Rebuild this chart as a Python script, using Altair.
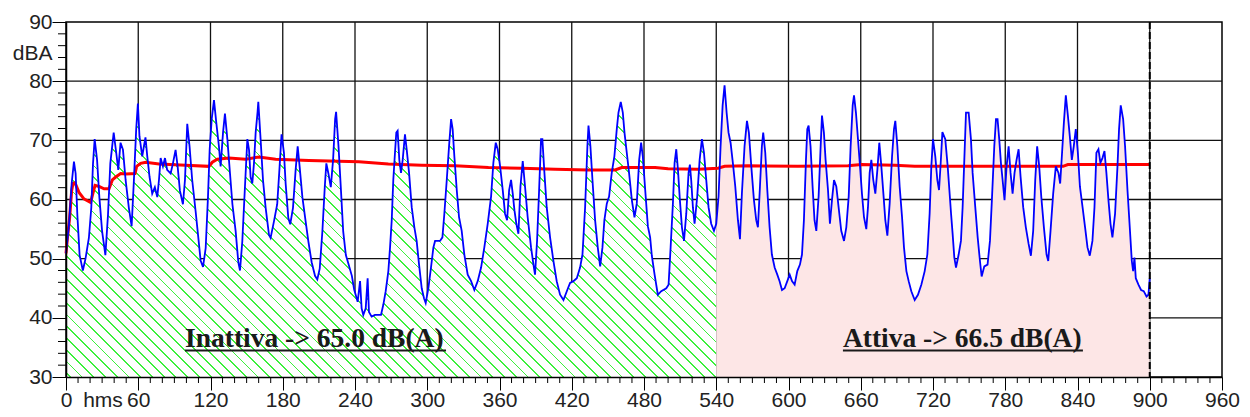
import math
import altair as alt
import pandas as pd

# ---------------- data ----------------
t_blue = [0, 2.5, 4.7, 6.6, 8, 9.4, 11.3, 14, 16.2, 19, 21, 22.4, 23.8, 25.8, 27.7, 30, 32.7, 34.9, 36.8, 39.6,
          41.7, 43.4, 45.3, 47.3, 49.5, 52.2, 54.5, 56.4, 58.3, 59.7, 61, 63.3, 64.7, 66, 67.5, 69.4, 71.6, 73.8,
          75.8, 77.2, 78.6, 80.5, 82.2, 84, 86.9, 88.8, 91, 92.7, 94.6, 97.1, 98.8, 100.7, 102.6, 104.8, 107.6,
          109.9, 111.8, 113.8, 116, 117.9, 119.3, 121, 122.9, 124.8, 127, 128.4, 130.4, 132, 134, 136.2, 138.2,
          140.9, 143.1, 144.5, 146.4, 148.6, 150.6, 152, 153.3, 154.7, 156.1, 157.5, 159.1, 159.7, 161.6, 163.6,
          165.8, 168.6, 169.9, 172.7, 175.4, 177.4, 179, 181, 182.4, 184.6, 186.2, 188.5, 190.7, 192.4, 194,
          196.3, 199, 201.3, 204, 206.8, 208.7, 210.7, 212.9, 214.9, 216.2, 217.9, 219.9, 221.8, 223.5, 224.3,
          226.3, 228.2, 230.2, 232.4, 234.6, 237.4, 239.3, 242.2, 244.2, 245.5, 246.9, 248.9, 250.5, 251.6,
          253.8, 256.6, 259.4, 261.6, 263.5, 265.5, 267.7, 269.1, 270.5, 271.8, 273.2, 274.3, 275.4, 276.8,
          278.2, 279.6, 281.5, 282.9, 284.9, 287.1, 289.3, 291.2, 293.2, 295.4, 297.3, 298.7, 300.9, 303.1,
          305.1, 306.5, 310.6, 312.6, 314.2, 316.2, 318.1, 319.8, 321.1, 322.5, 324.5, 326.4, 328.6, 330.8,
          333.6, 336.4, 339.1, 341.9, 344.7, 347.4, 350.2, 353, 354.9, 356.9, 358.5, 360.5, 362.7, 364.6, 366.3,
          368, 369.6, 371, 372.4, 374, 375.7, 377.4, 379.3, 381.2, 383.4, 386.2, 388.2, 389.5, 391.2, 392.9,
          394.5, 395.6, 397.3, 399.2, 402, 404.8, 407.5, 410.3, 413.1, 415.9, 418.6, 421.4, 424.2, 426.9, 428.9,
          431.1, 433, 433.9, 435.5, 437.2, 439.4, 441.6, 443.6, 445.5, 447.1, 449.1, 451, 453.2, 455.4, 457.4,
          458.8, 460.7, 462.4, 463.8, 465.7, 467.6, 469.9, 472.1, 474, 476, 477.6, 479, 481, 483.2, 485.1,
          486.5, 488.8, 491.5, 494.3, 498.5, 500.4, 502.1, 504, 505.4, 506.8, 508.2, 509.8, 511.5, 513.2, 515.1,
          517, 518.1, 519.2, 520.6, 522, 524.2, 526.2, 528.1, 529.8, 531.7, 533.6, 535.8, 538.1, 540, 541.9,
          543.6, 545.3, 546.9, 548.6, 550.2, 551.9, 553.8, 555.8, 558, 559.7, 561.3, 563.5, 565.5, 567.1, 569.1,
          571.3, 573.2, 574.6, 576.3, 577.9, 579, 580.7, 582.4, 584.3, 586.2, 588.5, 590.7, 592.6, 594.6, 596.8,
          599, 601, 602.9, 605.1, 607.3, 609.5, 611.2, 612.8, 614.5, 615.6, 616.7, 618.3, 620, 621.6, 623.1, 625,
          626.7, 627.8, 629.4, 630.8, 632.8, 634.4, 636.1, 637.8, 639.7, 641.6, 643.8, 646.1, 648, 650, 651.6,
          653.3, 654.4, 656, 657.7, 659.4, 661, 662.7, 664.6, 666, 667.4, 668.8, 670.4, 672.1, 673.8, 675.4,
          677.1, 678.8, 680.4, 682.1, 684, 686, 687.6, 688.7, 690.4, 692.3, 694.3, 695.9, 697.9, 699.8, 702,
          704.8, 707.5, 710.3, 713.1, 715.3, 717.2, 718.6, 720, 721.9, 723.6, 725, 726.4, 727.8, 730.2, 732.2,
          733.6, 735, 736.3, 737.7, 739.1, 741.3, 743.2, 744.6, 746, 747.4, 749.6, 751.5, 752.9, 755.1, 757.1,
          759, 760.4, 762.6, 765.3, 767.3, 768.9, 770.9, 772.3, 773.6, 775, 776.4, 777.8, 779.4, 781.1, 782.8,
          784.4, 786.1, 787.7, 789.4, 791.1, 792.7, 794.9, 797.1, 799.4, 801.3, 803.2, 804.9, 806.5, 808.2,
          809.9, 812.1, 814.3, 815.7, 817.6, 819.8, 822, 824.2, 825.6, 827, 828.7, 830.3, 832, 833.6, 835.3,
          836.9, 838.6, 840.3, 842, 844.2, 846.3, 848.3, 850.2, 852.4, 854.1, 855.7, 857.4, 859, 860.7, 862.4,
          864, 865.7, 867.4, 869, 871.2, 873.2, 874.5, 875.9, 877.9, 879.5, 881.5, 883.4, 885.1, 886.2, 887.3,
          888.4, 890.6, 892.8, 895, 897.3, 898.9, 900]
db_blue = [50.9, 55.8, 62.7, 66.4, 64.4, 57.5, 50.6, 48, 50, 53.5, 58.6, 66, 70.2, 66.7, 60.4, 54.6, 50.6, 57.5,
           66.1, 71.3, 67.9, 65, 69.6, 68.4, 63.3, 58.6, 55.5, 63.3, 71.9, 76.2, 70.7, 67.3, 69, 70.5, 67.3, 63.8,
           61, 62.1, 60.4, 63.3, 67, 65.6, 67, 65, 64.4, 66.1, 68.4, 65.6, 61.5, 59.2, 63.3, 72.8, 69, 63.3, 58.1,
           53.5, 49.7, 48.6, 51.8, 60.4, 68.4, 73.6, 76.8, 73, 69, 65.6, 71.3, 74.5, 70.2, 64.4, 59.2, 54.6, 49.4,
           48, 52.9, 62.1, 70.2, 68.4, 63.8, 62.7, 66.1, 71.3, 74.8, 76.5, 70.2, 63.3, 58.6, 54, 53.5, 56.3, 59.2,
           65.6, 71, 67.9, 62.7, 56.9, 55.8, 58.6, 65, 69, 65.6, 60.4, 56.3, 52.9, 49.4, 47.1, 46.5, 48.3, 54.6,
           62.1, 66.1, 64.4, 62.1, 66.7, 73.6, 74.8, 69, 62.1, 54.6, 50.6, 49.1, 47.1, 44.8, 42.7, 46.2, 41.6,
           40.5, 41.6, 46.7, 41, 40.2, 40.5, 40.5, 40.5, 42.2, 44.5, 47.9, 51.9, 56.5, 63.3, 67.9, 71.3, 71.6,
           66.7, 64.5, 66.7, 71, 68.5, 64.5, 58.7, 55.3, 53, 49, 45, 43.3, 42.5, 45, 48.5, 51.9, 53, 53, 53.6,
           57.6, 63.3, 69, 73.6, 71.9, 67.3, 61.6, 57, 54.7, 50.7, 47.3, 46.2, 44.7, 46.2, 48.5, 51.9, 55.9, 60.5,
           66.2, 69.6, 68.5, 65.6, 61.6, 57.6, 56.5, 61.6, 63.3, 61, 58.2, 55.9, 54.2, 62.2, 66.5, 62.2, 57, 51.9,
           49, 47.3, 53, 61.6, 70.2, 70.2, 64.5, 58.7, 53.6, 49.6, 46.2, 43.9, 43, 44.5, 45.9, 46.2, 46.7, 48.5,
           50.7, 58.7, 69, 72.5, 69, 63.3, 56.5, 51.9, 48.7, 51.9, 56.5, 59.3, 60.5, 64.5, 67.3, 71.9, 74.7, 76.5,
           74.7, 71.3, 67.9, 64.5, 59.9, 57, 59.3, 66.7, 69.6, 67.3, 61.6, 55.5, 53.6, 50.5, 47.3, 43.9, 44.5, 45,
           45.6, 51.9, 59.3, 66.2, 68.5, 65, 59.9, 55.3, 53, 57.6, 64.5, 65.9, 63.3, 58.7, 55.9, 60.5, 66.7, 70.2,
           67.9, 63.3, 58.7, 55.9, 54.7, 55.9, 60.5, 69, 75.9, 79.3, 74.7, 71.3, 69.6, 66.2, 62.2, 56.5, 53.3, 61,
           69, 73.3, 71.3, 65.6, 59.9, 56.5, 55.3, 62.2, 69, 71.3, 67.9, 61.6, 55.3, 50.7, 48.5, 47.3, 46.2, 44.7,
           45, 46.2, 47.3, 46.2, 45.6, 47.9, 49, 50.7, 56.5, 66.7, 71.9, 72.5, 69, 62.2, 56.5, 54.7, 60.5, 69,
           74.2, 71.3, 66.7, 61.6, 55.9, 59.9, 63.3, 62.2, 58.7, 54.7, 53, 55.3, 60.5, 69, 75.9, 77.6, 74.7, 70.2,
           65.6, 61, 57, 55, 58.7, 64.5, 66.7, 63.3, 61, 65, 69.6, 65.6, 61, 56.5, 53.9, 59.3, 67.3, 71.9, 73.3,
           69, 62.2, 57, 51.9, 47.9, 46.2, 44.5, 43, 43.9, 45.6, 47.9, 50.7, 57.6, 65.6, 70.2, 67.3, 63.3, 61.6,
           66.2, 71.4, 70.2, 65.6, 61.6, 57.6, 54.2, 50.2, 48.5, 50.7, 53, 58.7, 66.7, 74.7, 74.7, 70.2, 64.5,
           58.7, 53.6, 49.6, 47, 48.7, 49, 53, 59.9, 69, 73.6, 73.6, 70.2, 66.2, 63.3, 59.9, 65.6, 69, 64.5, 61,
           64.5, 66.7, 68.5, 63.9, 58.7, 55.3, 52.5, 50.5, 54.7, 63.3, 69, 65.6, 60.5, 55.3, 50.7, 49.6, 54.7, 61,
           65.6, 64.5, 62.7, 67.3, 73, 77.6, 74.2, 70.7, 66.7, 69, 71.9, 67.9, 62.2, 58.7, 55.3, 51.9, 50.5, 53,
           58.7, 67.9, 68.5, 66.2, 67, 68.2, 64.5, 59.9, 55.9, 53.6, 57.6, 65.6, 71.9, 75.9, 73.6, 69, 61.6, 55.3,
           49.6, 47.9, 50.2, 46.7, 45.6, 44.7, 44.5, 43.6, 43.9, 46.7]

t_red = [0, 1.2, 3, 4.7, 5.8, 7.5, 10.8, 14.9, 20.5, 21.9, 24.1, 27.4, 31.6, 35.7, 38.5, 41.3, 45.4, 49.6, 57.3,
         58.7, 62, 66.2, 77.2, 99.4, 118.7, 121.5, 125.6, 135.3, 149.2, 160.2, 174.1, 201.8, 243.3, 267.7, 295.4,
         323, 350.8, 378.5, 406.2, 433.9, 456, 461.5, 489.2, 500, 525, 541.4, 547, 566.3, 607.8, 649.4, 660.5,
         688.2, 704.8, 732.5, 828, 832, 900]
db_red = [50.9, 53.5, 56.9, 61.5, 62.7, 62.8, 61.2, 60.1, 59.5, 60.7, 62.4, 62.2, 61.8, 61.8, 63.3, 63.8, 64.4,
          64.3, 64.4, 65.6, 66.1, 66.3, 66.0, 65.8, 65.6, 66.3, 66.8, 67.0, 66.8, 67.2, 66.8, 66.6, 66.4, 66.0,
          65.8, 65.7, 65.4, 65.3, 65.1, 65.0, 65.0, 65.4, 65.4, 65.2, 65.1, 65.3, 65.6, 65.7, 65.6, 65.7, 65.9,
          65.8, 65.6, 65.6, 65.6, 65.9, 65.9]

x_major = list(range(0, 961, 60))
y_major = list(range(30, 91, 10))
x_minor = [v for v in range(10, 960, 10) if v % 60]
y_minor = [v for v in range(32, 90, 2) if v % 10]
x_grid = list(range(60, 901, 60))
y_grid = list(range(40, 81, 10))

labels = ["Inattiva -> 65.0 dB(A)", "Attiva -> 66.5 dB(A)"]
label_x = [98.8, 645.2]
label_x_end = [315.6, 844.5]
label_y = [35.0, 35.0]
underline_y = [34.5, 34.5]
split_t = 540
end_t = 900

# ---------------- geometry / styles ----------------
W, H = 1156, 355
X_DOM, Y_DOM = [0, 960], [30, 90]
px_s = W / 960.0
px_db = H / 60.0
FONT = "Liberation Sans"
TXT = "#222222"

df = pd.DataFrame({"t": t_blue, "db": db_blue})
df1 = df[df.t <= split_t]
df2 = df[df.t >= split_t]
dred = pd.DataFrame({"t": t_red, "db": db_red})


def hatch(Wb, Hb, period=8.3, lw=1.3, color="#3cf03c", bg="#ffffff"):
    a = (1 + Hb / Wb) / (1 + (Hb / Wb) ** 2)
    L = (Wb + Hb) / math.sqrt(2)
    stops = [{"offset": 0, "color": bg}]
    i = 0
    while True:
        c = (i * period + 3) / L
        s, e = c - lw / 2 / L, c + lw / 2 / L
        if e >= 1:
            break
        if s > 0:
            stops += [{"offset": s, "color": bg}, {"offset": s, "color": color},
                      {"offset": e, "color": color}, {"offset": e, "color": bg}]
        i += 1
    stops.append({"offset": 1, "color": bg})
    return {"gradient": "linear", "x1": 0, "y1": 1, "x2": a, "y2": 1 - a * Hb / Wb, "stops": stops}


W1 = (df1.t.max() - df1.t.min()) * px_s
H1 = (df1.db.max() - 30) * px_db
green_fill = hatch(W1, H1)
pink_fill = "#fde6e6"

xs = alt.Scale(domain=X_DOM, nice=False, zero=False)
ys = alt.Scale(domain=Y_DOM, nice=False, zero=False)

x_axis = alt.Axis(values=x_major, grid=False, zindex=1, domainColor="black", domainWidth=1.5,
                  tickColor="black", tickSize=13, tickWidth=1, labelFont=FONT, labelFontSize=21,
                  labelColor=TXT, labelBaseline="alphabetic", labelPadding=16, labelFlush=False,
                  labelOverlap=False, labelBound=False, format="d",
                  title="hms", titleFont=FONT, titleFontSize=21, titleFontWeight="normal", titleColor=TXT,
                  titleX=36.5, titleY=29, titleAlign="center", titleBaseline="alphabetic", titleAnchor="start")
y_axis = alt.Axis(values=y_major, grid=False, zindex=1, domainColor="black", domainWidth=1.5,
                  tickColor="black", tickSize=14, tickWidth=1, labelFont=FONT, labelFontSize=21,
                  labelColor=TXT, labelPadding=0, labelFlush=False, labelOverlap=False, labelBound=False,
                  format="d",
                  title="dBA", titleFont=FONT, titleFontSize=21, titleFontWeight="normal", titleColor=TXT,
                  titleAngle=0, titleX=-14, titleY=37, titleAlign="right", titleBaseline="alphabetic")


def X(f):
    return alt.X(f, type="quantitative", scale=xs, axis=x_axis)


def Y(f):
    return alt.Y(f, type="quantitative", scale=ys, axis=y_axis)


gx = pd.DataFrame({"g": x_grid})
gy = pd.DataFrame({"g": y_grid})

grid_v = alt.Chart(gx).mark_rule(color="#111111", strokeWidth=1.3).encode(x=X("g"))
grid_h = alt.Chart(gy).mark_rule(color="#111111", strokeWidth=1.3).encode(y=Y("g"))

area1 = alt.Chart(df1).mark_area(fill=green_fill, strokeWidth=0).encode(
    x=X("t"), y=Y("db"), y2=alt.datum(30))
area2 = alt.Chart(df2).mark_area(fill=pink_fill, strokeWidth=0).encode(
    x=X("t"), y=Y("db"), y2=alt.datum(30))

blue = alt.Chart(df).mark_line(color="#0000ff", strokeWidth=1.8).encode(x=X("t"), y=Y("db"))
red = alt.Chart(dred).mark_line(color="#ff0000", strokeWidth=3).encode(x=X("t"), y=Y("db"))

end_rule = alt.Chart(pd.DataFrame({"t": [end_t]})).mark_rule(
    color="black", strokeWidth=2, strokeDash=[7, 3]).encode(x=X("t"))

mx = alt.Chart(pd.DataFrame({"v": x_minor})).mark_rule(color="black", strokeWidth=1).encode(
    x=X("v"), y=alt.value(H), y2=alt.value(H + 6))
my = alt.Chart(pd.DataFrame({"v": y_minor})).mark_rule(color="black", strokeWidth=1).encode(
    y=Y("v"), x=alt.value(-8), x2=alt.value(0))

dl = pd.DataFrame({"label": labels, "x": label_x, "x2": label_x_end, "y": label_y, "uy": underline_y})
texts = alt.Chart(dl).mark_text(align="left", baseline="alphabetic", font="Liberation Serif",
                                fontWeight="bold", fontSize=27.5, color="#1a1a1a").encode(
    x=X("x"), y=Y("y"), text="label:N")
underl = alt.Chart(dl).mark_rule(color="#1a1a1a", strokeWidth=2).encode(
    x=X("x"), x2="x2:Q", y=Y("uy"))

chart = alt.layer(grid_v, grid_h, area1, area2, red, blue, end_rule, mx, my, texts, underl).properties(
    width=W, height=H,
    autosize=alt.AutoSizeParams(type="none"),
    padding={"left": 58, "top": 14, "right": 20, "bottom": 32},
    background="white",
).configure_view(stroke="black", strokeWidth=1.5)

chart.save("out.html", embed_options={"renderer": "svg", "actions": False})
